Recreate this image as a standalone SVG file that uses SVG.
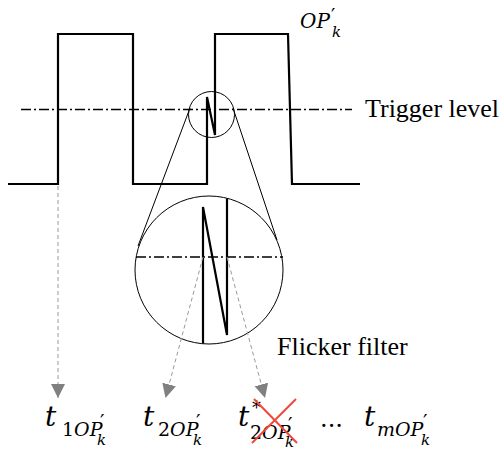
<svg xmlns="http://www.w3.org/2000/svg" width="502" height="450" viewBox="0 0 502 450">
<defs>
<style>
.wave{fill:none;stroke:#000;stroke-width:2.2;stroke-linejoin:miter}
.thin{fill:none;stroke:#000;stroke-width:1}
.dd{fill:none;stroke:#000;stroke-width:1.3;stroke-dasharray:10 3 2 3}
.arr{fill:none;stroke:#9a9a9a;stroke-width:1;stroke-dasharray:4 3}
.lbl{font-family:"Liberation Serif","Times New Roman",serif;font-size:26px;fill:#000}
.mt{font-family:"DejaVu Serif","Liberation Serif",serif;fill:#000}
.i{font-style:italic}
.x{stroke:#f0483a;stroke-width:2;fill:none}
</style>
<marker id="ah" viewBox="0 0 14 14" refX="14" refY="7" markerWidth="14" markerHeight="15" markerUnits="userSpaceOnUse" orient="auto">
<path d="M0,0 L14,7 L0,14 z" fill="#808080"/>
</marker>
</defs>
<rect width="502" height="450" fill="#fff"/>

<g id="signal">
<line class="dd" x1="21" y1="109.5" x2="352" y2="109.5"/>
<path class="wave" d="M8,184 H58 V34 H133 V184 H207 V97 L215,135 V34 H288 L292,184 H360"/>
<text class="mt" x="300" y="28" font-size="20"><tspan class="i">OP</tspan><tspan x="331" y="22" font-size="19">′</tspan><tspan class="i" x="332" y="37" font-size="15">k</tspan></text>
<text class="lbl" x="365" y="117">Trigger level</text>
</g>

<g id="zoom-small">
<circle class="thin" cx="211.5" cy="114.5" r="23"/>
</g>

<g id="flicker-filter">
<circle class="thin" cx="209" cy="270" r="74"/>
<line class="dd" x1="136" y1="257" x2="283" y2="257"/>
<path class="wave" d="M203,343.5 V207 L227,335 V198.5" stroke-width="2"/>
<text class="lbl" x="277" y="355">Flicker filter</text>
</g>

<g id="connectors">
<line class="thin" x1="190" y1="108" x2="138" y2="246"/>
<line class="thin" x1="233" y1="108" x2="277" y2="240"/>
<line class="arr" x1="58" y1="186" x2="58" y2="398" marker-end="url(#ah)"/>
<line class="arr" x1="203" y1="257" x2="165.5" y2="398" marker-end="url(#ah)"/>
<line class="arr" x1="227" y1="257" x2="265" y2="398" marker-end="url(#ah)"/>
</g>

<g id="t1">
<text class="mt" x="45" y="426"><tspan class="i" font-size="28">t</tspan><tspan x="62" y="436" font-size="19">1</tspan><tspan class="i" font-size="19">OP</tspan><tspan x="100" y="429" font-size="20">′</tspan><tspan class="i" x="97" y="445" font-size="15">k</tspan></text>
</g>

<g id="t2">
<text class="mt" x="143" y="426"><tspan class="i" font-size="28">t</tspan><tspan x="158" y="436" font-size="19">2</tspan><tspan class="i" font-size="19">OP</tspan><tspan x="196" y="429" font-size="20">′</tspan><tspan class="i" x="193" y="445" font-size="15">k</tspan></text>
</g>

<g id="t2star">
<text class="mt" x="238" y="426"><tspan class="i" font-size="28">t</tspan><tspan x="252" y="414" font-size="18">*</tspan><tspan x="250" y="439" font-size="19">2</tspan><tspan class="i" font-size="19">OP</tspan><tspan x="288" y="432" font-size="20">′</tspan><tspan class="i" x="285" y="447" font-size="15">k</tspan></text>
<line class="x" x1="254" y1="399" x2="297" y2="443"/>
<line class="x" x1="296" y1="399" x2="252" y2="443"/>
</g>

<g id="ellipsis">
<text class="mt" x="320" y="427" font-size="24">...</text>
</g>

<g id="tm">
<text class="mt" x="364" y="426"><tspan class="i" font-size="28">t</tspan><tspan class="i" x="377" y="436" font-size="19">mOP</tspan><tspan x="423" y="429" font-size="20">′</tspan><tspan class="i" x="421" y="445" font-size="15">k</tspan></text>
</g>
</svg>
